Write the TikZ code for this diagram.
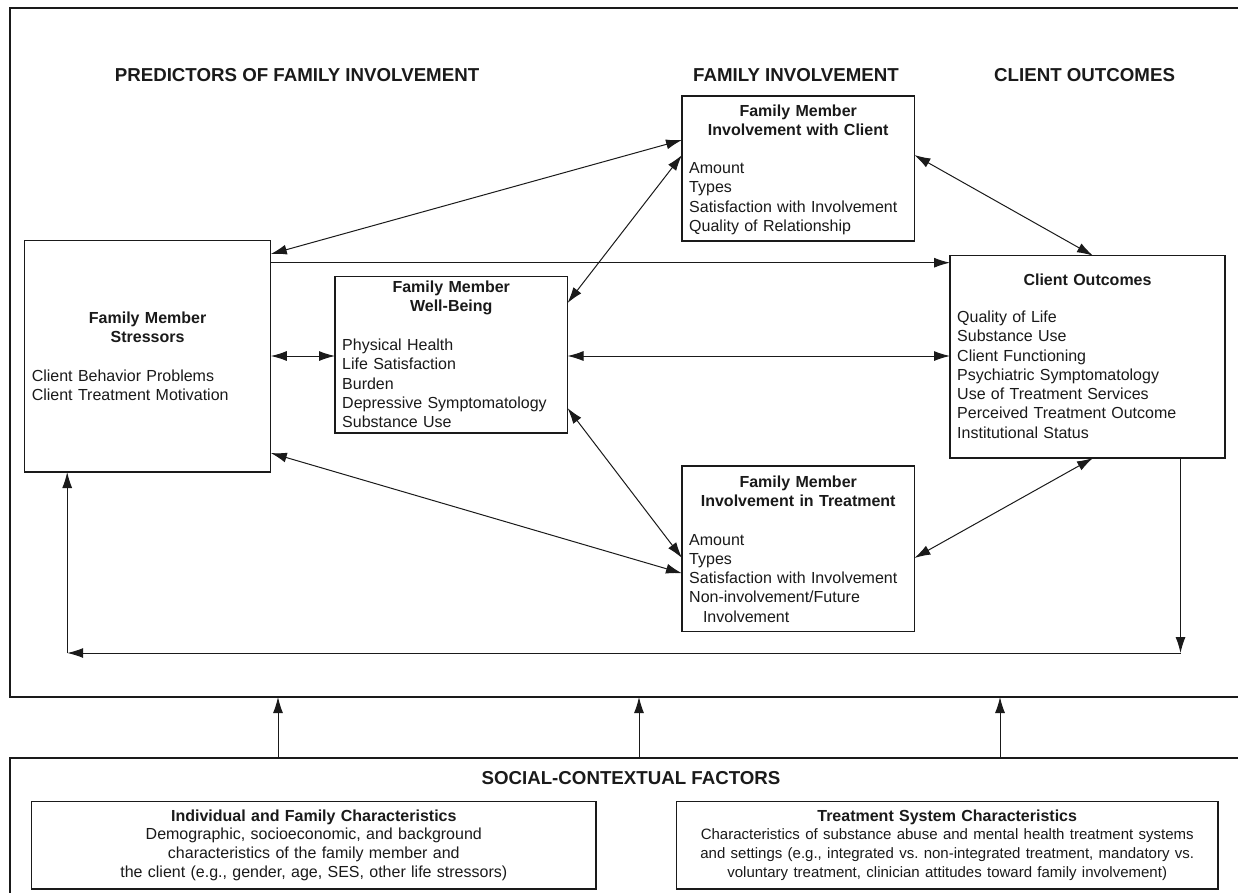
\documentclass[tikz,border=0pt]{standalone}
\usepackage{fontspec}
\setmainfont{Liberation Sans}
\usetikzlibrary{arrows.meta,calc}
\definecolor{ink}{HTML}{1A1A1A}
\frenchspacing
\begin{document}
\begin{tikzpicture}[x=1pt,y=-1pt,
  boxnode/.style={draw=ink,line width=1.2pt,anchor=north west,inner sep=0pt,outer sep=0pt},
  outerframe/.style={draw=ink,line width=1.3pt,anchor=north west,inner sep=0pt,outer sep=0pt},
  heading/.style={font=\fontsize{18.7}{22}\selectfont\bfseries,anchor=base,inner sep=0pt,text=ink},
  btitle/.style={font=\fontsize{16}{19.2}\selectfont\bfseries,align=center,anchor=base,inner sep=0pt,text=ink},
  items/.style={font=\fontsize{16}{19.25}\selectfont,align=left,anchor=base west,inner sep=0pt,text=ink},
  lowtext/.style={font=\fontsize{16}{18.7}\selectfont,align=center,anchor=base,inner sep=0pt,text=ink},
  twoarrow/.style={draw=ink,line width=1pt,{Latex[length=16pt,width=10pt]}-{Latex[length=16pt,width=10pt]}},
  onearrow/.style={draw=ink,line width=1pt,-{Latex[length=16pt,width=10pt]}},
]
\useasboundingbox (0,0) rectangle (1238,892);
\clip (0,0) rectangle (1238,892);
\fill[white] (0,0) rectangle (1238,892);

% frames
\node[outerframe, minimum width=1240pt, minimum height=689pt] (topf) at (10,8) {};
\node[outerframe, minimum width=1240pt, minimum height=150pt] (botf) at (10,758) {};

% headings
\node[heading] (h1) at (297,81.5) {PREDICTORS OF FAMILY INVOLVEMENT};
\node[heading] (h2) at (796,81.5) {FAMILY INVOLVEMENT};
\node[heading] (h3) at (1084.6,81.5) {CLIENT OUTCOMES};
\node[heading] (h4) at (631,784.6) {SOCIAL-CONTEXTUAL FACTORS};

% boxes
\node[boxnode, minimum width=246.3pt, minimum height=231.3pt] (str) at (24.5,240.7) {};
\node[boxnode, minimum width=232.5pt, minimum height=156.3pt] (wb) at (335,276.7) {};
\node[boxnode, minimum width=232.4pt, minimum height=145pt] (iwc) at (682,96) {};
\node[boxnode, minimum width=232.4pt, minimum height=165.7pt] (iit) at (682,466) {};
\node[boxnode, minimum width=275pt, minimum height=202.3pt] (co) at (950,255.7) {};
\node[boxnode, minimum width=564.4pt, minimum height=87.3pt] (ind) at (31.6,801.7) {};
\node[boxnode, minimum width=541.6pt, minimum height=87.3pt] (tsc) at (676.4,801.7) {};

% box texts
\node[btitle, text width=240pt] (strT) at (147.6,323) {Family Member\\Stressors};
\node[items, text width=235pt] (strI) at (31.6,381) {Client Behavior Problems\\Client Treatment Motivation};

\node[btitle, text width=228pt] (wbT) at (451.25,292.5) {Family Member\\Well-Being};
\node[items, text width=222pt] (wbI) at (342,350.5) {Physical Health\\Life Satisfaction\\Burden\\Depressive Symptomatology\\Substance Use};

\node[btitle, text width=228pt] (iwcT) at (798.2,116.5) {Family Member\\Involvement with Client};
\node[items, text width=222pt] (iwcI) at (689,173.5) {Amount\\Types\\Satisfaction with Involvement\\Quality of Relationship};

\node[btitle, text width=270pt] (coT) at (1087.5,285.5) {Client Outcomes};
\node[items, text width=262pt] (coI) at (957,322.5) {Quality of Life\\Substance Use\\Client Functioning\\Psychiatric Symptomatology\\Use of Treatment Services\\Perceived Treatment Outcome\\Institutional Status};

\node[btitle, text width=228pt] (iitT) at (798.2,487) {Family Member\\Involvement in Treatment};
\node[items, text width=222pt] (iitI) at (689,545) {Amount\\Types\\Satisfaction with Involvement\\Non-involvement/Future\\\hspace*{13.8pt}Involvement};

\node[lowtext, text width=560pt] (indT) at (313.8,821) {{\bfseries Individual and Family Characteristics}\\Demographic, socioeconomic, and background\\characteristics of the family member and\\the client (e.g., gender, age, SES, other life stressors)};
\node[lowtext, text width=538pt] (tscT) at (947.2,821) {{\bfseries Treatment System Characteristics}\\\fontsize{15}{18.7}\selectfont Characteristics of substance abuse and mental health treatment systems\\and settings (e.g., integrated vs. non-integrated treatment, mandatory vs.\\voluntary treatment, clinician attitudes toward family involvement)};

% connectors
\draw[twoarrow] ([yshift=-13.3pt]str.north east) -- ([yshift=-44pt]iwc.north west);
\draw[onearrow] ([yshift=-22pt]str.north east) -- ([yshift=-7pt]co.north west);
\draw[twoarrow] ([yshift=-26.3pt]wb.north east) -- ([yshift=-59pt]iwc.north west);
\draw[twoarrow] ([yshift=-115.3pt]str.north east) -- ([yshift=-79.3pt]wb.north west);
\draw[twoarrow] ([yshift=-79.3pt]wb.north east) -- ([yshift=-100.3pt]co.north west);
\draw[twoarrow] ([yshift=-59pt]iwc.north east) -- ([xshift=143pt]co.north west);
\draw[twoarrow] ([yshift=25pt]wb.south east) -- ([yshift=-92pt]iit.north west);
\draw[twoarrow] ([yshift=19pt]str.south east) -- ([yshift=-107.3pt]iit.north west);
\draw[twoarrow] ([xshift=143pt]co.south west) -- ([yshift=-92pt]iit.north east);

\coordinate (c1) at (1180.5,653);
\coordinate (c2) at (67.2,653);
\draw[onearrow] ([xshift=230.5pt]co.south west) -- (c1);
\draw[onearrow] (c1) -- (c2);
\draw[onearrow] (c2) -- ([xshift=42.7pt]str.south west);

\draw[onearrow] ([xshift=268pt]botf.north west) -- ([xshift=268pt]topf.south west);
\draw[onearrow] ([xshift=629pt]botf.north west) -- ([xshift=629pt]topf.south west);
\draw[onearrow] ([xshift=990pt]botf.north west) -- ([xshift=990pt]topf.south west);
\end{tikzpicture}
\end{document}
